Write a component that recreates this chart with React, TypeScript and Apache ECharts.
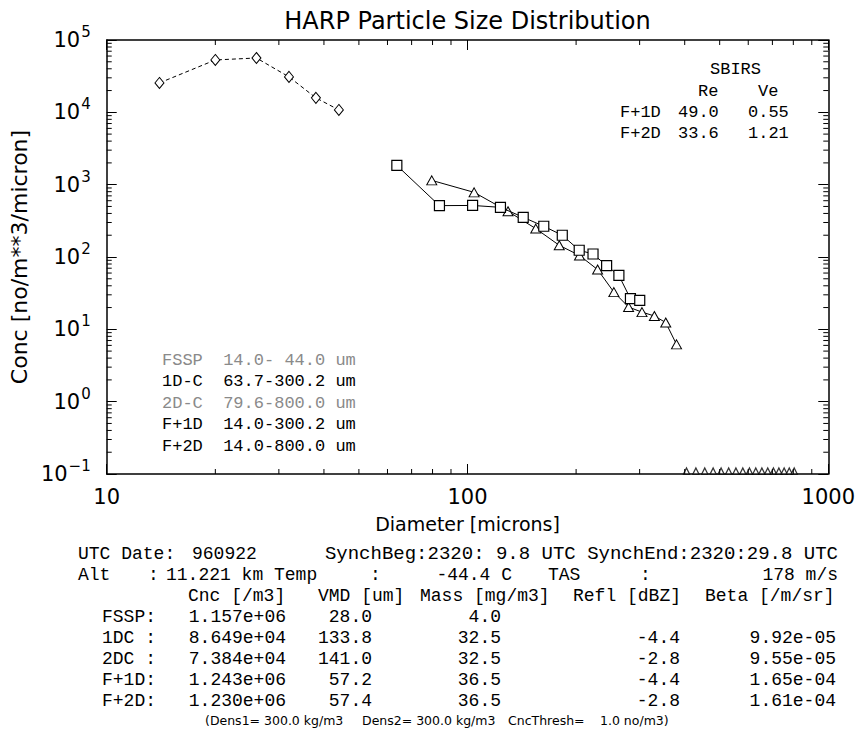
import React, { useEffect, useRef } from "react";
import * as echarts from "echarts";

// ---------- data ----------
const fsspDiam = [14.0, 20.0, 26.0, 32.0, 38.0, 44.0];
const fsspConc = [25500, 53000, 56400, 30900, 15850, 10800];

const oneDcDiam = [63.7, 83.6, 103.3, 123.4, 142.7, 162.7, 183.1, 204.0, 222.8, 243.0, 262.8, 282.9, 300.2];
const oneDcConc = [1845, 513, 516, 486, 354, 266, 200, 124, 110, 76, 55.6, 26.5, 25.1];

const twoDcDiam = [79.6, 104.3, 129.5, 154.6, 179.6, 204.4, 229.4, 254.5, 279.6, 304.5, 329.6, 354.4, 379.6];
const twoDcConc = [1146, 783, 428, 247, 145, 105, 67, 32.7, 20.3, 17.3, 15.3, 12.4, 6.2];

// 2D-C bins with no counts, drawn on the axis floor
const twoDcZeroDiam = [404.6, 429.6, 454.6, 479.6, 504.6, 529.6, 554.6, 579.6, 604.6, 629.6, 654.6, 679.6, 704.6, 729.6, 754.6, 779.6, 804.6];
const axisFloor = 0.1;

const yDecades = [0.1, 1, 10, 100, 1000, 10000, 100000];
const xDecades = [10, 100, 1000];
const minorSteps = [2, 3, 4, 5, 6, 7, 8, 9];

const titleText = "HARP Particle Size Distribution";
const xName = "Diameter [microns]";
const yName = "Conc [no/m**3/micron]";

const sbirsTitle = "SBIRS";
const sbirsCols = ["Re", "Ve"];
const sbirsRows = ["F+1D", "F+2D"];
const sbirsRe = [49.0, 33.6];
const sbirsVe = [0.55, 1.21];

const legendNames = ["FSSP", "1D-C", "2D-C", "F+1D", "F+2D"];
const legendLo = [14.0, 63.7, 79.6, 14.0, 14.0];
const legendHi = [44.0, 300.2, 800.0, 300.2, 800.0];
const legendGray = [true, false, true, false, false];

const utcDate = "960922";
const synchBeg = "2320: 9.8";
const synchEnd = "2320:29.8";
const altKm = 11.221;
const tempC = -44.4;
const tasMs = 178;

const tableHeaders = ["Cnc [/m3]", "VMD [um]", "Mass [mg/m3]", "Refl [dBZ]", "Beta [/m/sr]"];
const tableRows = ["FSSP:", "1DC :", "2DC :", "F+1D:", "F+2D:"];
const tableCnc = ["1.157e+06", "8.649e+04", "7.384e+04", "1.243e+06", "1.230e+06"];
const tableVmd = [28.0, 133.8, 141.0, 57.2, 57.4];
const tableMass = [4.0, 32.5, 32.5, 36.5, 36.5];
const tableRefl: (number | null)[] = [null, -4.4, -2.8, -4.4, -2.8];
const tableBeta: (string | null)[] = [null, "9.92e-05", "9.55e-05", "1.65e-04", "1.61e-04"];

const dens1 = 300.0;
const dens2 = 300.0;
const cncThresh = 1.0;

// ---------- styling ----------
const SANS = '"DejaVu Sans", "Liberation Sans", sans-serif';
const MONO = '"Liberation Mono", "DejaVu Sans Mono", monospace';
const GRID = { left: 104, top: 40, width: 727, height: 434 };

function txt(x: number, y: number, text: string, o: any = {}) {
  const align = o.align || "left";
  return {
    type: "text",
    x,
    y,
    silent: true,
    z: 50,
    style: {
      text,
      fill: o.fill || "#000",
      font: `${o.size || 17}px ${o.family || MONO}`,
      align,
      textAlign: align,
      verticalAlign: "middle",
      textVerticalAlign: "middle",
    },
  };
}

function buildGraphics() {
  const g: any[] = [];
  // title
  g.push(txt(GRID.left + GRID.width / 2, 21, titleText, { size: 24, family: SANS, align: "center" }));

  // SBIRS block
  g.push(txt(710, 69, sbirsTitle));
  g.push(txt(698, 91, sbirsCols[0]));
  g.push(txt(758, 91, sbirsCols[1]));
  sbirsRows.forEach((r, i) => {
    const y = 112 + i * 21;
    g.push(txt(620, y, r));
    g.push(txt(678, y, sbirsRe[i].toFixed(1)));
    g.push(txt(748, y, sbirsVe[i].toFixed(2)));
  });

  // legend block
  const cw = 10.2;
  const lx = 162;
  legendNames.forEach((n, i) => {
    const y = 360 + i * 21.5;
    const fill = legendGray[i] ? "#8a8a8a" : "#000";
    const range = legendLo[i].toFixed(1) + "-" + legendHi[i].toFixed(1).padStart(5, " ");
    g.push(txt(lx, y, n, { fill }));
    g.push(txt(lx + 16 * cw, y, range, { fill, align: "right" }));
    g.push(txt(lx + 17 * cw, y, "um", { fill }));
  });

  // info lines
  const fi = 18;
  g.push(txt(78, 554, "UTC Date:", { size: fi }));
  g.push(txt(192, 554, utcDate, { size: fi }));
  g.push(txt(838, 554, "SynchBeg:" + synchBeg + " UTC SynchEnd:" + synchEnd + " UTC", { size: 19, align: "right" }));

  g.push(txt(78, 575, "Alt", { size: fi }));
  g.push(txt(148, 575, ":", { size: fi }));
  g.push(txt(166, 575, altKm.toFixed(3) + " km", { size: fi }));
  g.push(txt(274, 575, "Temp", { size: fi }));
  g.push(txt(370, 575, ":", { size: fi }));
  g.push(txt(512, 575, tempC.toFixed(1) + " C", { size: fi, align: "right" }));
  g.push(txt(548, 575, "TAS", { size: fi }));
  g.push(txt(640, 575, ":", { size: fi }));
  g.push(txt(838, 575, tasMs + " m/s", { size: fi, align: "right" }));

  // table
  const fs = 18;
  const hx = [188, 318, 420, 573, 705];
  tableHeaders.forEach((h, i) => g.push(txt(hx[i], 596, h, { size: fs })));
  tableRows.forEach((r, i) => {
    const y = 617 + i * 21;
    g.push(txt(102, y, r, { size: fs }));
    g.push(txt(286, y, tableCnc[i], { size: fs, align: "right" }));
    g.push(txt(372, y, tableVmd[i].toFixed(1), { size: fs, align: "right" }));
    g.push(txt(501, y, tableMass[i].toFixed(1), { size: fs, align: "right" }));
    const rf = tableRefl[i];
    if (rf !== null) g.push(txt(680, y, rf.toFixed(1), { size: fs, align: "right" }));
    const bt = tableBeta[i];
    if (bt !== null) g.push(txt(836, y, bt, { size: fs, align: "right" }));
  });

  // densities line
  const ds = 12.5;
  g.push(txt(205, 720, "(Dens1= " + dens1.toFixed(1) + " kg/m3", { size: ds, family: SANS }));
  g.push(txt(362, 720, "Dens2= " + dens2.toFixed(1) + " kg/m3", { size: ds, family: SANS }));
  g.push(txt(508, 720, "CncThresh=", { size: ds, family: SANS }));
  g.push(txt(600, 720, cncThresh.toFixed(1) + " no/m3)", { size: ds, family: SANS }));
  return g;
}

function pairs(xs: number[], ys: number[]) {
  return xs.map((x, i) => [x, ys[i]]);
}

function buildOption() {
  const yMinor: number[][] = [];
  yDecades.slice(0, -1).forEach((d) => minorSteps.forEach((m) => yMinor.push([xDecades[0], d * m])));
  const xMinor: number[][] = [];
  xDecades.slice(0, -1).forEach((d) => minorSteps.forEach((m) => xMinor.push([d * m, 1])));

  const axisLine = { show: true, onZero: false, lineStyle: { color: "#000", width: 1.5 } };
  const majorTick = { show: true, inside: true, length: 10, lineStyle: { color: "#000", width: 1 } };

  const xBase = {
    type: "log",
    logBase: 10,
    min: 10,
    max: 1000,
    interval: 1,
    splitLine: { show: false },
    minorTick: { show: false },
    axisLine,
    axisTick: majorTick,
  };
  const yBase = {
    type: "log",
    logBase: 10,
    min: 0.1,
    max: 100000,
    interval: 1,
    splitLine: { show: false },
    minorTick: { show: false },
    axisLine,
    axisTick: majorTick,
  };

  const black = "#000";
  return {
    animation: false,
    backgroundColor: "#fff",
    grid: { ...GRID, containLabel: false },
    xAxis: [
      {
        ...xBase,
        position: "bottom",
        name: xName,
        nameLocation: "middle",
        nameGap: 40,
        nameTextStyle: { fontSize: 19, fontFamily: SANS, color: black },
        axisLabel: {
          show: true,
          margin: 12,
          fontSize: 21,
          fontFamily: SANS,
          color: black,
          showMinLabel: true,
          showMaxLabel: true,
          formatter: (v: number) => String(Math.round(v)),
        },
      },
      { ...xBase, position: "top", axisLabel: { show: false } },
    ],
    yAxis: [
      {
        ...yBase,
        position: "left",
        name: yName,
        nameLocation: "middle",
        nameGap: 70,
        nameRotate: 90,
        nameTextStyle: { fontSize: 22, fontFamily: SANS, color: black },
        axisLabel: {
          show: true,
          margin: 16,
          showMinLabel: true,
          showMaxLabel: true,
          formatter: (v: number) => {
            const e = Math.round(Math.log10(v));
            return "{b|10}{s|" + (e < 0 ? "\u2212" + -e : String(e)) + "}";
          },
          rich: {
            b: { fontSize: 21, fontFamily: SANS, color: black, lineHeight: 22 },
            s: { fontSize: 15, fontFamily: SANS, color: black, lineHeight: 15, padding: [0, 0, 16, 1] },
          },
        },
      },
      { ...yBase, position: "right", axisLabel: { show: false } },
    ],
    series: [
      {
        name: "FSSP",
        type: "line",
        data: pairs(fsspDiam, fsspConc),
        symbol: "diamond",
        symbolSize: [9, 11],
        itemStyle: { color: "#fff", borderColor: black, borderWidth: 1 },
        lineStyle: { color: black, width: 1, type: [4, 3] },
        z: 3,
      },
      {
        name: "2D-C",
        type: "line",
        data: pairs(twoDcDiam, twoDcConc),
        symbol: "triangle",
        symbolSize: [10, 9],
        itemStyle: { color: "#fff", borderColor: black, borderWidth: 1 },
        lineStyle: { color: black, width: 1 },
        z: 3,
      },
      {
        name: "1D-C",
        type: "line",
        data: pairs(oneDcDiam, oneDcConc),
        symbol: "rect",
        symbolSize: 10,
        itemStyle: { color: "#fff", borderColor: black, borderWidth: 1.2 },
        lineStyle: { color: black, width: 1 },
        z: 4,
      },
      {
        name: "2D-C zero bins",
        type: "scatter",
        data: twoDcZeroDiam.map((d) => [d, axisFloor]),
        symbol: "triangle",
        symbolSize: [6, 6],
        symbolOffset: [0, -3],
        itemStyle: { color: "#fff", borderColor: black, borderWidth: 1.3 },
        z: 4,
      },
      {
        name: "y minor ticks",
        type: "custom",
        silent: true,
        clip: false,
        z: 6,
        data: yMinor,
        encode: { x: 0, y: 1 },
        renderItem: (params: any, api: any) => {
          const cs = params.coordSys;
          const y = api.coord([api.value(0), api.value(1)])[1];
          const st = { stroke: black, lineWidth: 1 };
          return {
            type: "group",
            children: [
              { type: "line", shape: { x1: cs.x, y1: y, x2: cs.x + 5, y2: y }, style: st },
              { type: "line", shape: { x1: cs.x + cs.width, y1: y, x2: cs.x + cs.width - 5, y2: y }, style: st },
            ],
          };
        },
      },
      {
        name: "x minor ticks",
        type: "custom",
        silent: true,
        clip: false,
        z: 6,
        data: xMinor,
        encode: { x: 0, y: 1 },
        renderItem: (params: any, api: any) => {
          const cs = params.coordSys;
          const x = api.coord([api.value(0), api.value(1)])[0];
          const st = { stroke: black, lineWidth: 1 };
          return {
            type: "group",
            children: [
              { type: "line", shape: { x1: x, y1: cs.y + cs.height, x2: x, y2: cs.y + cs.height - 5 }, style: st },
              { type: "line", shape: { x1: x, y1: cs.y, x2: x, y2: cs.y + 5 }, style: st },
            ],
          };
        },
      },
    ],
    graphic: buildGraphics(),
  };
}

export default function App() {
  const ref = useRef<HTMLDivElement>(null);
  useEffect(() => {
    if (!ref.current) return;
    const chart = echarts.init(ref.current, null, { renderer: "svg" });
    chart.setOption(buildOption() as any);
    return () => chart.dispose();
  }, []);
  return (
    <div
      ref={ref}
      style={{ position: "absolute", left: 0, top: 0, width: 858, height: 738, background: "#fff" }}
    />
  );
}
